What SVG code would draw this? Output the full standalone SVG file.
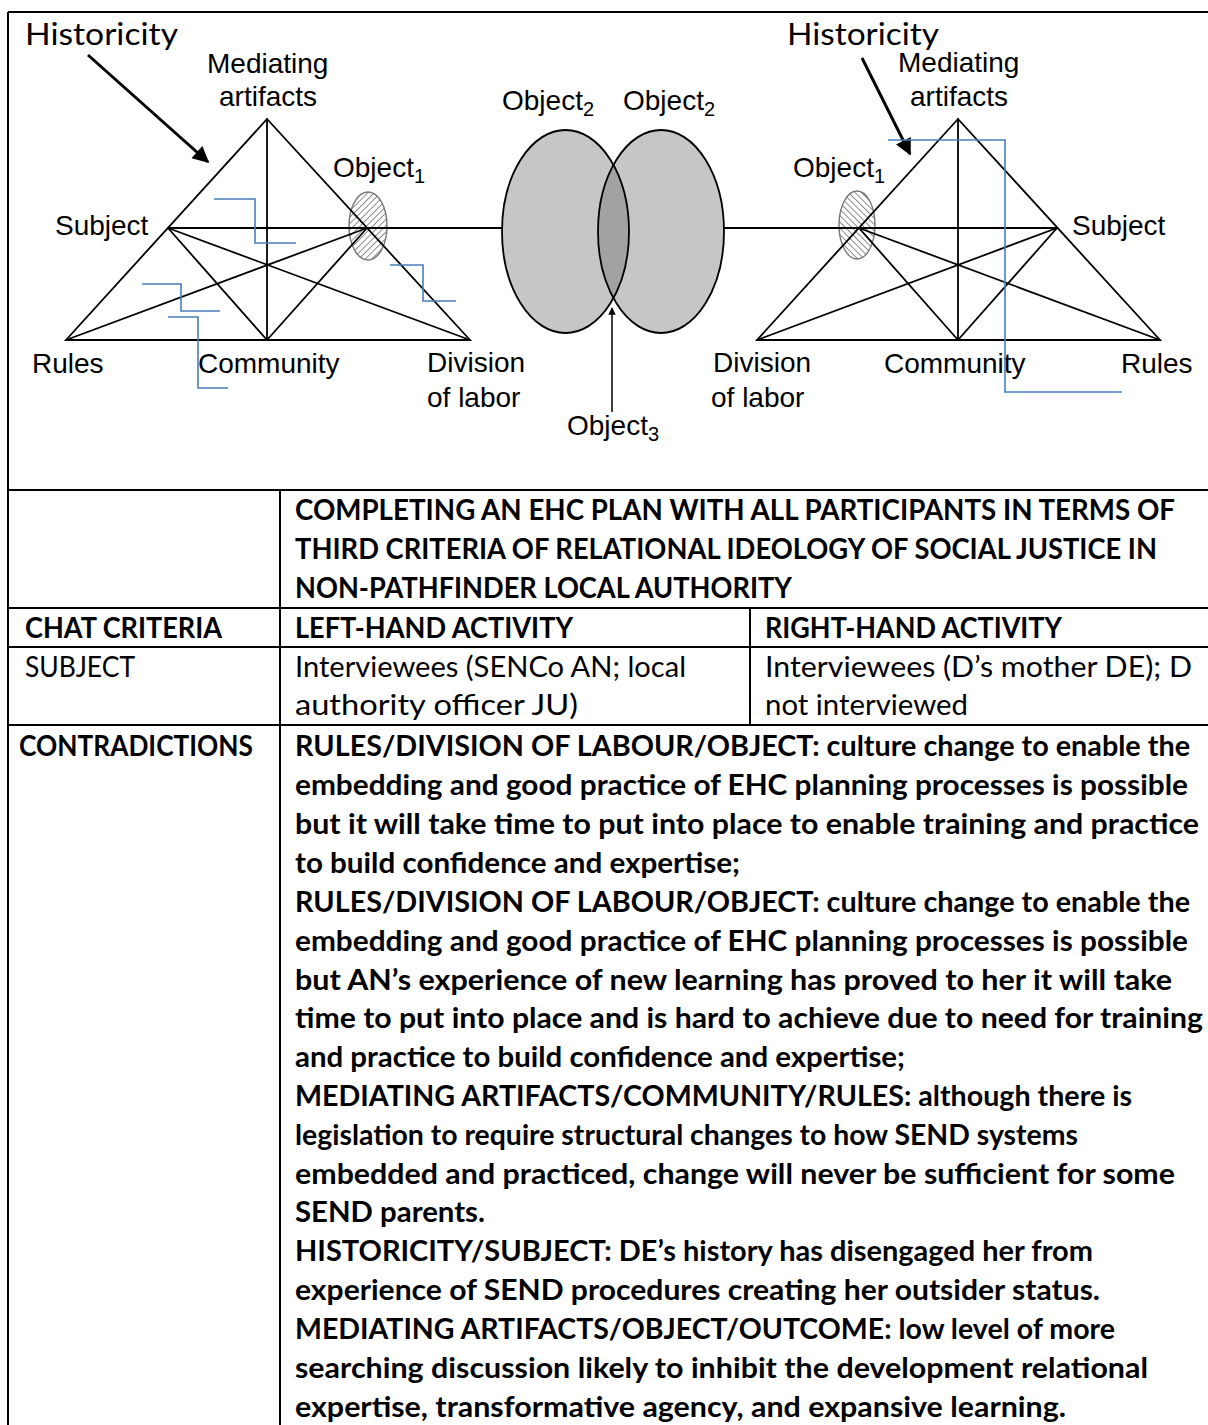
<svg xmlns="http://www.w3.org/2000/svg" width="1208" height="1425" viewBox="0 0 1208 1425">
  <style>
    .fig { font-family: "Liberation Sans", Arial, sans-serif; font-size: 28px; fill: #000; }
    .sub { font-size: 20px; }
    .hist { font-family: Lato, "Liberation Sans", sans-serif; font-size: 30px; fill: #000; }
    .tb { font-family: Lato, "Liberation Sans", sans-serif; font-size: 28px; font-weight: bold; fill: #000; }
    .tr { font-family: Lato, "Liberation Sans", sans-serif; font-size: 28px; font-weight: normal; fill: #000; }
    .edge { stroke: #000; stroke-width: 1.8; fill: none; stroke-linecap: round; }
    .grid { stroke: #000; stroke-width: 2; fill: none; }
    .note { stroke: #4a7ebb; stroke-width: 1.6; fill: none; }
    .hatchL { fill: url(#hatchL); stroke: #777; stroke-width: 1.4; }
    .hatchR { fill: url(#hatchR); stroke: #777; stroke-width: 1.4; }
    .obj2 { fill: #c6c6c6; }
  </style>
  <defs>
    <pattern id="hatchL" patternUnits="userSpaceOnUse" width="4.5" height="4.5" patternTransform="rotate(45)">
      <rect width="4.5" height="4.5" fill="#fff"/>
      <line x1="0" y1="0" x2="0" y2="4.5" stroke="#333" stroke-width="1.1"/>
    </pattern>
    <pattern id="hatchR" patternUnits="userSpaceOnUse" width="4.5" height="4.5" patternTransform="rotate(-45)">
      <rect width="4.5" height="4.5" fill="#fff"/>
      <line x1="0" y1="0" x2="0" y2="4.5" stroke="#333" stroke-width="1.1"/>
    </pattern>
    <marker id="bigHead" viewBox="0 0 10 10" refX="9" refY="5" markerWidth="6.5" markerHeight="5.5" markerUnits="strokeWidth" orient="auto">
      <path d="M0,0 L10,5 L0,10 z" fill="#000"/>
    </marker>
    <marker id="smallHead" viewBox="0 0 10 10" refX="9" refY="5" markerWidth="7" markerHeight="5" markerUnits="strokeWidth" orient="auto">
      <path d="M0,0 L10,5 L0,10 z" fill="#000"/>
    </marker>
    <clipPath id="leftObj2">
      <ellipse cx="565.5" cy="231.5" rx="63.5" ry="101.5"/>
    </clipPath>
  </defs>

  <rect x="0" y="0" width="1208" height="1425" fill="#fff"/>

  <!-- outer frame and table rules -->
  <g id="frame">
    <line class="grid" x1="8" y1="12" x2="1208" y2="12"/>
    <line class="grid" x1="8" y1="12" x2="8" y2="1425"/>
    <line class="grid" x1="8" y1="490" x2="1208" y2="490"/>
    <line class="grid" x1="8" y1="608" x2="1208" y2="608"/>
    <line class="grid" x1="8" y1="647" x2="1208" y2="647"/>
    <line class="grid" x1="8" y1="725" x2="1208" y2="725"/>
    <line class="grid" x1="280" y1="490" x2="280" y2="1425"/>
    <line class="grid" x1="750" y1="608" x2="750" y2="725"/>
  </g>

  <!-- left activity system -->
  <g id="left-activity">
    <ellipse class="hatchL" cx="368" cy="226" rx="19" ry="34"/>
    <path class="edge" d="M267,119 L66,340 L470,340 Z"/>
    <line class="edge" x1="267" y1="119" x2="267" y2="340"/>
    <line class="edge" x1="168" y1="228" x2="367" y2="228"/>
    <line class="edge" x1="168" y1="228" x2="267" y2="340"/>
    <line class="edge" x1="367" y1="228" x2="267" y2="340"/>
    <line class="edge" x1="168" y1="228" x2="470" y2="340"/>
    <line class="edge" x1="367" y1="228" x2="66" y2="340"/>
    <text class="hist" x="25" y="45" textLength="153" lengthAdjust="spacingAndGlyphs">Historicity</text>
    <text class="fig" x="207" y="73">Mediating</text>
    <text class="fig" x="219" y="106">artifacts</text>
    <text class="fig" x="333" y="177">Object<tspan class="sub" dy="6">1</tspan></text>
    <text class="fig" x="55" y="235">Subject</text>
    <text class="fig" x="32" y="373">Rules</text>
    <text class="fig" x="198" y="373">Community</text>
    <text class="fig" x="427" y="372">Division</text>
    <text class="fig" x="427" y="407">of labor</text>
  </g>

  <!-- shared objects -->
  <g id="shared-objects">
    <ellipse class="obj2" cx="565.5" cy="231.5" rx="63.5" ry="101.5"/>
    <ellipse class="obj2" cx="661" cy="231.5" rx="63" ry="101.5"/>
    <ellipse cx="661" cy="231.5" rx="63" ry="101.5" fill="#a2a2a2" clip-path="url(#leftObj2)"/>
    <ellipse cx="565.5" cy="231.5" rx="63.5" ry="101.5" fill="none" stroke="#000" stroke-width="1.8"/>
    <ellipse cx="661" cy="231.5" rx="63" ry="101.5" fill="none" stroke="#000" stroke-width="1.8"/>
    <text class="fig" x="502" y="110">Object<tspan class="sub" dy="6">2</tspan></text>
    <text class="fig" x="623" y="110">Object<tspan class="sub" dy="6">2</tspan></text>
    <text class="fig" x="567" y="435">Object<tspan class="sub" dy="6">3</tspan></text>
  </g>

  <!-- right activity system -->
  <g id="right-activity">
    <ellipse class="hatchR" cx="857" cy="225" rx="18" ry="34"/>
    <path class="edge" d="M958,119 L757,340 L1160,340 Z"/>
    <line class="edge" x1="958" y1="119" x2="958" y2="340"/>
    <line class="edge" x1="859" y1="228" x2="1057" y2="228"/>
    <line class="edge" x1="859" y1="228" x2="958" y2="340"/>
    <line class="edge" x1="1057" y1="228" x2="958" y2="340"/>
    <line class="edge" x1="859" y1="228" x2="1160" y2="340"/>
    <line class="edge" x1="1057" y1="228" x2="757" y2="340"/>
    <text class="hist" x="787" y="45" textLength="152" lengthAdjust="spacingAndGlyphs">Historicity</text>
    <text class="fig" x="898" y="72">Mediating</text>
    <text class="fig" x="910" y="106">artifacts</text>
    <text class="fig" x="793" y="177">Object<tspan class="sub" dy="6">1</tspan></text>
    <text class="fig" x="1072" y="235">Subject</text>
    <text class="fig" x="713" y="372">Division</text>
    <text class="fig" x="711" y="407">of labor</text>
    <text class="fig" x="884" y="373">Community</text>
    <text class="fig" x="1121" y="373">Rules</text>
  </g>

  <!-- connectors -->
  <g id="connectors">
    <line class="edge" x1="367" y1="228" x2="502" y2="228"/>
    <line class="edge" x1="724" y1="228" x2="859" y2="228"/>
    <line x1="88" y1="55" x2="208" y2="162" stroke="#000" stroke-width="3" marker-end="url(#bigHead)"/>
    <line x1="862" y1="58" x2="910" y2="154" stroke="#000" stroke-width="3" marker-end="url(#bigHead)"/>
    <line x1="612" y1="412" x2="612" y2="308" stroke="#000" stroke-width="1.5" marker-end="url(#smallHead)"/>
  </g>

  <!-- blue elbow annotation lines -->
  <g id="annotations">
    <polyline class="note" points="214,199 255,199 255,243 296,243"/>
    <polyline class="note" points="142,284 181,284 181,311 220,311"/>
    <polyline class="note" points="168,317 198,317 198,388 228,388"/>
    <polyline class="note" points="390,265 423,265 423,301 456,301"/>
    <polyline class="note" points="888,140 1005,140 1005,392 1122,392"/>
  </g>

  <!-- table text -->
  <g id="table-header" xml:space="preserve">
    <text class="tb" x="295" y="520" textLength="880" lengthAdjust="spacingAndGlyphs">COMPLETING AN EHC PLAN WITH ALL PARTICIPANTS IN TERMS OF</text>
    <text class="tb" x="295" y="559" textLength="862" lengthAdjust="spacingAndGlyphs">THIRD CRITERIA OF RELATIONAL IDEOLOGY OF SOCIAL JUSTICE  IN</text>
    <text class="tb" x="295" y="598" textLength="497" lengthAdjust="spacingAndGlyphs">NON-PATHFINDER LOCAL AUTHORITY</text>
    <text class="tb" x="25" y="638" textLength="197" lengthAdjust="spacingAndGlyphs">CHAT CRITERIA</text>
    <text class="tb" x="295" y="638" textLength="278" lengthAdjust="spacingAndGlyphs">LEFT-HAND ACTIVITY</text>
    <text class="tb" x="765" y="638" textLength="297" lengthAdjust="spacingAndGlyphs">RIGHT-HAND ACTIVITY</text>
  </g>

  <g id="table-subject" xml:space="preserve">
    <text class="tr" x="25" y="677" textLength="110" lengthAdjust="spacingAndGlyphs">SUBJECT</text>
    <text class="tr" x="295" y="677" textLength="391" lengthAdjust="spacingAndGlyphs">Interviewees (SENCo AN; local</text>
    <text class="tr" x="295" y="715" textLength="283" lengthAdjust="spacingAndGlyphs">authority  officer JU)</text>
    <text class="tr" x="765" y="677" textLength="427" lengthAdjust="spacingAndGlyphs">Interviewees (D’s mother  DE); D</text>
    <text class="tr" x="765" y="715" textLength="203" lengthAdjust="spacingAndGlyphs">not interviewed</text>
  </g>

  <g id="table-contradictions" xml:space="preserve">
    <text class="tb" x="19" y="756" textLength="234" lengthAdjust="spacingAndGlyphs">CONTRADICTIONS</text>
    <text class="tb" x="295" y="756" textLength="895" lengthAdjust="spacingAndGlyphs">RULES/DIVISION OF LABOUR/OBJECT: culture change to enable the</text>
    <text class="tb" x="295" y="795" textLength="893" lengthAdjust="spacingAndGlyphs">embedding and good practice of EHC planning processes is possible</text>
    <text class="tb" x="295" y="834" textLength="904" lengthAdjust="spacingAndGlyphs">but it will take time to put into place to enable training and practice</text>
    <text class="tb" x="295" y="873" textLength="445" lengthAdjust="spacingAndGlyphs">to build confidence and expertise;</text>
    <text class="tb" x="295" y="912" textLength="895" lengthAdjust="spacingAndGlyphs">RULES/DIVISION OF LABOUR/OBJECT: culture change to enable the</text>
    <text class="tb" x="295" y="951" textLength="893" lengthAdjust="spacingAndGlyphs">embedding and good practice of EHC planning processes is possible</text>
    <text class="tb" x="295" y="990" textLength="877" lengthAdjust="spacingAndGlyphs">but AN’s experience of new learning has proved to her it will take</text>
    <text class="tb" x="295" y="1028" textLength="908" lengthAdjust="spacingAndGlyphs">time to put into place and is hard to achieve due to need for training</text>
    <text class="tb" x="295" y="1067" textLength="610" lengthAdjust="spacingAndGlyphs">and practice to build confidence and expertise;</text>
    <text class="tb" x="295" y="1106" textLength="837" lengthAdjust="spacingAndGlyphs">MEDIATING ARTIFACTS/COMMUNITY/RULES:  although there is</text>
    <text class="tb" x="295" y="1145" textLength="783" lengthAdjust="spacingAndGlyphs">legislation to require structural changes to how SEND systems</text>
    <text class="tb" x="295" y="1184" textLength="880" lengthAdjust="spacingAndGlyphs">embedded and practiced, change will never be sufficient for some</text>
    <text class="tb" x="295" y="1222" textLength="190" lengthAdjust="spacingAndGlyphs">SEND parents.</text>
    <text class="tb" x="295" y="1261" textLength="798" lengthAdjust="spacingAndGlyphs">HISTORICITY/SUBJECT:  DE’s history has disengaged her from</text>
    <text class="tb" x="295" y="1300" textLength="805" lengthAdjust="spacingAndGlyphs">experience of SEND procedures creating her outsider status.</text>
    <text class="tb" x="295" y="1339" textLength="820" lengthAdjust="spacingAndGlyphs">MEDIATING ARTIFACTS/OBJECT/OUTCOME:  low level of more</text>
    <text class="tb" x="295" y="1378" textLength="853" lengthAdjust="spacingAndGlyphs">searching discussion likely to inhibit the development relational</text>
    <text class="tb" x="295" y="1417" textLength="771" lengthAdjust="spacingAndGlyphs">expertise, transformative agency, and expansive learning.</text>
  </g>
</svg>
